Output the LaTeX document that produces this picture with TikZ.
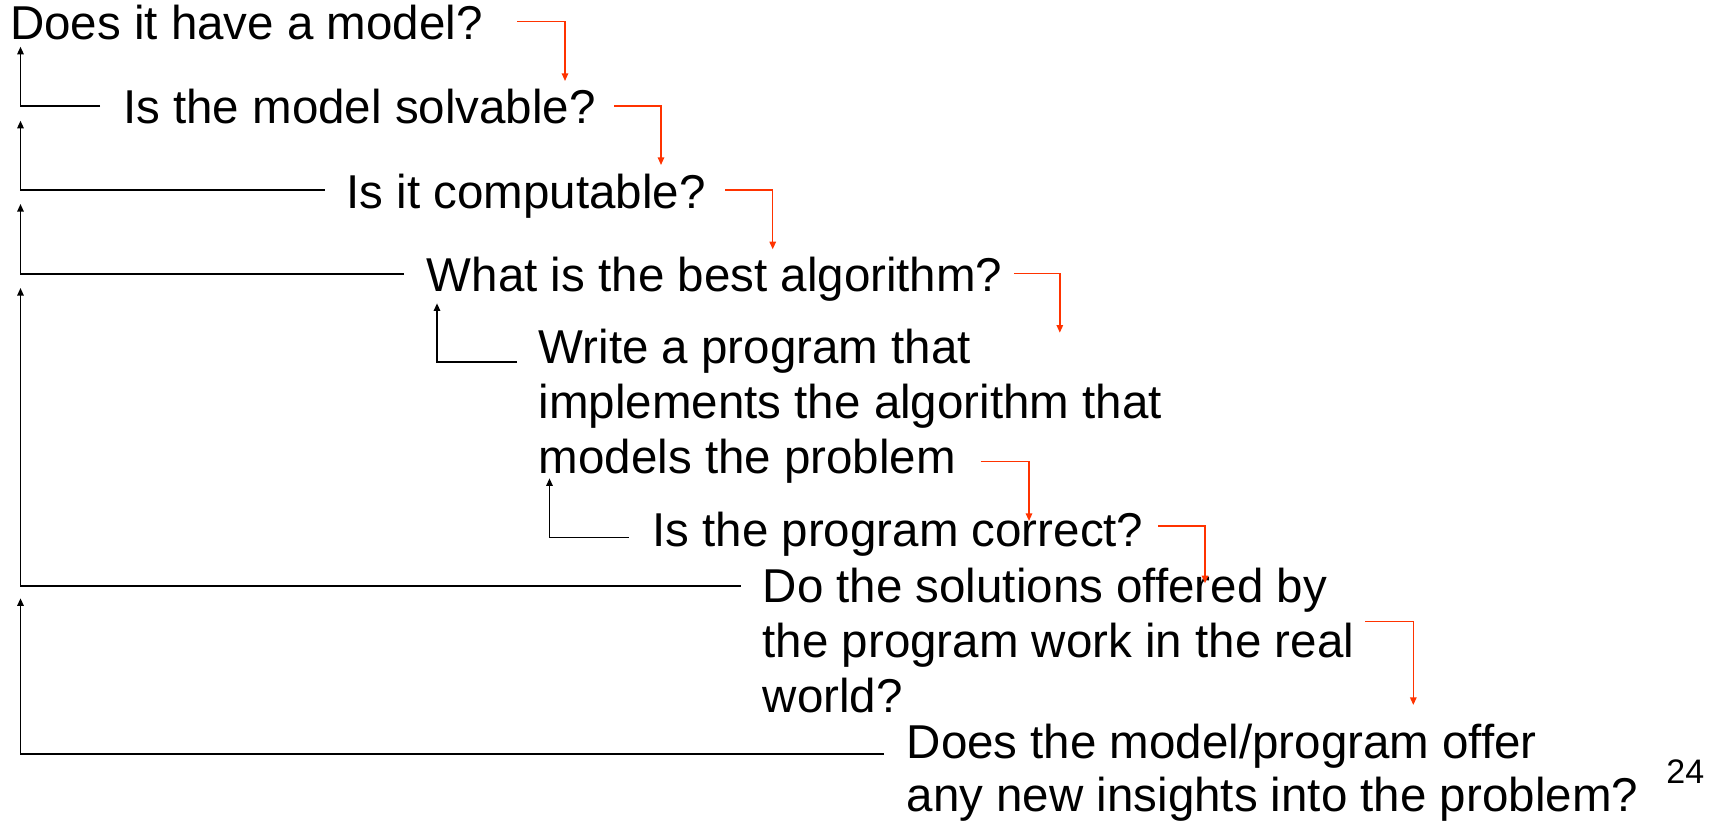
\documentclass[tikz,border=0pt]{standalone}
\usepackage{fontspec}
\setmainfont{Liberation Sans}
\usetikzlibrary{arrows.meta}
\definecolor{redc}{RGB}{255,51,0}
\newcommand{\mainsz}{\fontsize{23.75pt}{27.5pt}\selectfont}
\newcommand{\pagesz}{\fontsize{17pt}{20pt}\selectfont}
\newcommand{\lines}[1]{\begin{tabular}[t]{@{}l@{}}#1\end{tabular}}
\begin{document}
\begin{tikzpicture}[x=0.5pt,y=-0.5pt,
  txt/.style={anchor=base west, inner sep=0pt, font=\mainsz},
  blk/.style={draw=black, line width=0.8pt, -{Triangle[length=3.8pt,width=3.2pt]}},
  rd/.style={draw=redc, line width=0.75pt, -{Triangle[length=3.8pt,width=3.2pt]}}]
\useasboundingbox (0,0) rectangle (1717,824);
% texts
\node[txt] (t1) at (9.8,39.3) {Does it have a model?};
\node[txt] (t2) at (122.8,123.3) {Is the model solvable?};
\node[txt] (t3) at (346,208.3) {Is it computable?};
\node[txt] (t4) at (426.5,291.5) {What is the best algorithm?};
\node[txt] (t5) at (538.4,363.3) {\lines{Write a program that\\implements the algorithm that\\models the problem}};
\node[txt] (t6) at (652,546.7) {Is the program correct?};
\node[txt] (t7) at (762.3,602) {\lines{Do the solutions offered by\\the program work in the real\\world?}};
\node[txt,font=\fontsize{23.75pt}{26.7pt}\selectfont] (t8) at (906.3,758.3) {\lines{Does the model/program offer\\any new insights into the problem?}};
\node[anchor=base west, inner sep=0pt, font=\pagesz] (pg) at (1666,783.3) {24};
% arrow tips (black)
\coordinate (u1) at (20.5,46.7);
\coordinate (u2) at (20.5,120.7);
\coordinate (u3) at (20.5,204);
\coordinate (u4) at (20.5,288);
\coordinate (u5) at (20.5,598.3);
\coordinate (u6) at (437,303.3);
\coordinate (u7) at (549.5,478.3);
% black back-arrows
\draw[blk] ([shift={(-22.8,-17.3)}]t2.base west) -| (u1);
\draw[blk] ([shift={(-21.4,-18.3)}]t3.base west) -| (u2);
\draw[blk] ([shift={(-22.5,-17.5)}]t4.base west) -| (u3);
\draw[blk] ([shift={(-21.8,-16.3)}]t7.base west) -| (u4);
\draw[blk] ([shift={(-22.3,-4.3)}]t8.base west) -| (u5);
\draw[blk] ([shift={(-21.4,-1.6)}]t5.base west) -| (u6);
\draw[blk] ([shift={(-23.4,-9.2)}]t6.base west) -| (u7);
% red forward arrows
\coordinate (r1s) at (517,21.7);   \coordinate (r1e) at (565,81);
\coordinate (r2s) at (614,106);    \coordinate (r2e) at (661,165);
\coordinate (r3s) at (725,190);    \coordinate (r3e) at (772.7,249.3);
\coordinate (r4s) at (1013.8,273.3); \coordinate (r4e) at (1059.8,332.7);
\coordinate (r5s) at (980.5,461.7); \coordinate (r5e) at (1029,521);
\coordinate (r6s) at (1158,526);   \coordinate (r6e) at (1205,583.3);
\coordinate (r7s) at (1365,621.7); \coordinate (r7e) at (1413.3,705);
\draw[rd] (r1s) -| (r1e);
\draw[rd] (r2s) -| (r2e);
\draw[rd] (r3s) -| (r3e);
\draw[rd] (r4s) -| (r4e);
\draw[rd] (r5s) -| (r5e);
\draw[rd] (r6s) -| (r6e);
\draw[rd] (r7s) -| (r7e);
\end{tikzpicture}
\end{document}
